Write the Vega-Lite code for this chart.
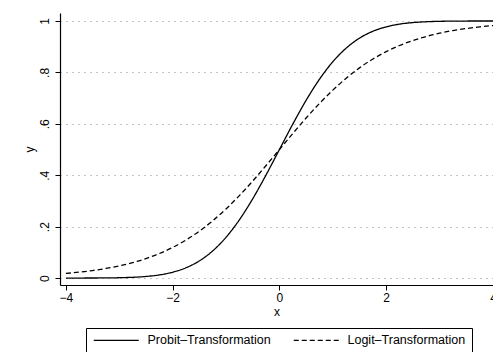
{
  "$schema": "https://vega.github.io/schema/vega-lite/v6.json",
  "autosize": "none",
  "padding": {"left": 60, "top": 13, "right": 0, "bottom": 67},
  "width": 433,
  "height": 272,
  "background": "white",
  "config": {
    "view": {"stroke": null},
    "font": "Liberation Sans",
    "axis": {
      "domainColor": "black",
      "tickColor": "black",
      "labelColor": "black",
      "titleColor": "black",
      "labelFont": "Liberation Sans",
      "titleFont": "Liberation Sans",
      "labelFontSize": 12,
      "titleFontSize": 12,
      "titleFontWeight": "normal",
      "tickSize": 5,
      "domainWidth": 1.2,
      "tickWidth": 1
    }
  },
  "data": {
    "values": [
      {"x": -4, "y": 0.00003, "s": "Probit–Transformation"},
      {"x": -3.75, "y": 0.00009, "s": "Probit–Transformation"},
      {"x": -3.5, "y": 0.00023, "s": "Probit–Transformation"},
      {"x": -3.25, "y": 0.00058, "s": "Probit–Transformation"},
      {"x": -3, "y": 0.00135, "s": "Probit–Transformation"},
      {"x": -2.75, "y": 0.00298, "s": "Probit–Transformation"},
      {"x": -2.5, "y": 0.00621, "s": "Probit–Transformation"},
      {"x": -2.25, "y": 0.01222, "s": "Probit–Transformation"},
      {"x": -2, "y": 0.02275, "s": "Probit–Transformation"},
      {"x": -1.75, "y": 0.04006, "s": "Probit–Transformation"},
      {"x": -1.5, "y": 0.06681, "s": "Probit–Transformation"},
      {"x": -1.25, "y": 0.10565, "s": "Probit–Transformation"},
      {"x": -1, "y": 0.15866, "s": "Probit–Transformation"},
      {"x": -0.75, "y": 0.22663, "s": "Probit–Transformation"},
      {"x": -0.5, "y": 0.30854, "s": "Probit–Transformation"},
      {"x": -0.25, "y": 0.40129, "s": "Probit–Transformation"},
      {"x": 0, "y": 0.5, "s": "Probit–Transformation"},
      {"x": 0.25, "y": 0.59871, "s": "Probit–Transformation"},
      {"x": 0.5, "y": 0.69146, "s": "Probit–Transformation"},
      {"x": 0.75, "y": 0.77337, "s": "Probit–Transformation"},
      {"x": 1, "y": 0.84134, "s": "Probit–Transformation"},
      {"x": 1.25, "y": 0.89435, "s": "Probit–Transformation"},
      {"x": 1.5, "y": 0.93319, "s": "Probit–Transformation"},
      {"x": 1.75, "y": 0.95994, "s": "Probit–Transformation"},
      {"x": 2, "y": 0.97725, "s": "Probit–Transformation"},
      {"x": 2.25, "y": 0.98778, "s": "Probit–Transformation"},
      {"x": 2.5, "y": 0.99379, "s": "Probit–Transformation"},
      {"x": 2.75, "y": 0.99702, "s": "Probit–Transformation"},
      {"x": 3, "y": 0.99865, "s": "Probit–Transformation"},
      {"x": 3.25, "y": 0.99942, "s": "Probit–Transformation"},
      {"x": 3.5, "y": 0.99977, "s": "Probit–Transformation"},
      {"x": 3.75, "y": 0.99991, "s": "Probit–Transformation"},
      {"x": 4, "y": 0.99997, "s": "Probit–Transformation"},
      {"x": -4, "y": 0.01799, "s": "Logit–Transformation"},
      {"x": -3.75, "y": 0.02298, "s": "Logit–Transformation"},
      {"x": -3.5, "y": 0.02931, "s": "Logit–Transformation"},
      {"x": -3.25, "y": 0.03733, "s": "Logit–Transformation"},
      {"x": -3, "y": 0.04743, "s": "Logit–Transformation"},
      {"x": -2.75, "y": 0.06009, "s": "Logit–Transformation"},
      {"x": -2.5, "y": 0.07586, "s": "Logit–Transformation"},
      {"x": -2.25, "y": 0.09535, "s": "Logit–Transformation"},
      {"x": -2, "y": 0.1192, "s": "Logit–Transformation"},
      {"x": -1.75, "y": 0.14805, "s": "Logit–Transformation"},
      {"x": -1.5, "y": 0.18243, "s": "Logit–Transformation"},
      {"x": -1.25, "y": 0.2227, "s": "Logit–Transformation"},
      {"x": -1, "y": 0.26894, "s": "Logit–Transformation"},
      {"x": -0.75, "y": 0.32082, "s": "Logit–Transformation"},
      {"x": -0.5, "y": 0.37754, "s": "Logit–Transformation"},
      {"x": -0.25, "y": 0.43782, "s": "Logit–Transformation"},
      {"x": 0, "y": 0.5, "s": "Logit–Transformation"},
      {"x": 0.25, "y": 0.56218, "s": "Logit–Transformation"},
      {"x": 0.5, "y": 0.62246, "s": "Logit–Transformation"},
      {"x": 0.75, "y": 0.67918, "s": "Logit–Transformation"},
      {"x": 1, "y": 0.73106, "s": "Logit–Transformation"},
      {"x": 1.25, "y": 0.7773, "s": "Logit–Transformation"},
      {"x": 1.5, "y": 0.81757, "s": "Logit–Transformation"},
      {"x": 1.75, "y": 0.85195, "s": "Logit–Transformation"},
      {"x": 2, "y": 0.8808, "s": "Logit–Transformation"},
      {"x": 2.25, "y": 0.90465, "s": "Logit–Transformation"},
      {"x": 2.5, "y": 0.92414, "s": "Logit–Transformation"},
      {"x": 2.75, "y": 0.93991, "s": "Logit–Transformation"},
      {"x": 3, "y": 0.95257, "s": "Logit–Transformation"},
      {"x": 3.25, "y": 0.96267, "s": "Logit–Transformation"},
      {"x": 3.5, "y": 0.97069, "s": "Logit–Transformation"},
      {"x": 3.75, "y": 0.97702, "s": "Logit–Transformation"},
      {"x": 4, "y": 0.98201, "s": "Logit–Transformation"}
    ]
  },
  "mark": {"type": "line", "color": "black", "strokeWidth": 1.3, "interpolate": "monotone", "clip": true},
  "encoding": {
    "x": {
      "field": "x",
      "type": "quantitative",
      "scale": {"domain": [-4.11, 4.0], "nice": false, "zero": false},
      "axis": {"values": [-4, -2, 0, 2, 4], "title": "x", "grid": false, "labelPadding": 2, "titlePadding": 3, "labelFlush": false}
    },
    "y": {
      "field": "y",
      "type": "quantitative",
      "scale": {"domain": [-0.027, 1.031], "nice": false, "zero": false},
      "axis": {
        "values": [0, 0.2, 0.4, 0.6, 0.8, 1],
        "title": "y",
        "labelExpr": "replace(format(datum.value, '.1~f'), '0.', '.')",
        "labelAngle": 270,
        "labelAlign": "center",
        "labelBaseline": "bottom",
        "labelPadding": 4,
        "titlePadding": 2,
        "grid": true,
        "gridDash": [1, 5],
        "gridColor": "#888",
        "gridWidth": 1
      }
    },
    "strokeDash": {
      "field": "s",
      "type": "nominal",
      "scale": {"domain": ["Probit–Transformation", "Logit–Transformation"], "range": [[1, 0], [5, 3]]},
      "legend": {
        "title": null,
        "orient": "none",
        "direction": "horizontal",
        "legendX": 26,
        "legendY": 315,
        "strokeColor": "black",
        "padding": 6,
        "symbolType": "M-1,0H9",
        "symbolSize": 81,
        "symbolStrokeWidth": 1.3,
        "symbolStrokeColor": "black",
        "labelFont": "Liberation Sans",
        "labelFontSize": 12.5,
        "labelColor": "black",
        "labelOffset": 43,
        "columnPadding": 20,
        "labelLimit": 300
      }
    }
  }
}
